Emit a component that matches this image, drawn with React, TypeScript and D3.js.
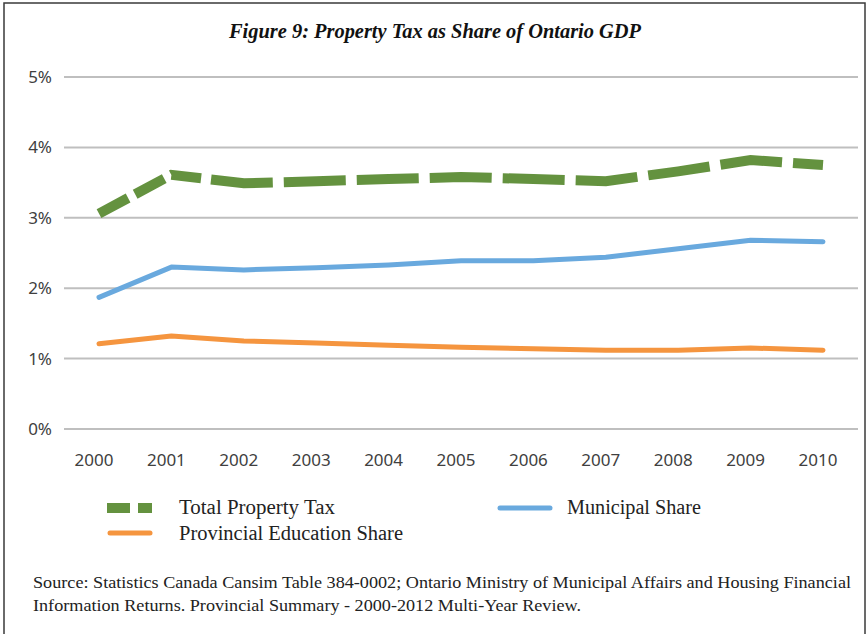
import React from 'react';
import * as d3 from 'd3';

const years = ['2000', '2001', '2002', '2003', '2004', '2005', '2006', '2007', '2008', '2009', '2010'];
const totalTax = [3.06, 3.61, 3.49, 3.52, 3.55, 3.58, 3.55, 3.52, 3.66, 3.82, 3.75];
const municipal = [1.87, 2.30, 2.26, 2.29, 2.33, 2.39, 2.39, 2.44, 2.56, 2.68, 2.66];
const provincial = [1.21, 1.32, 1.25, 1.22, 1.19, 1.16, 1.14, 1.12, 1.12, 1.15, 1.12];
const yTicks = [0, 1, 2, 3, 4, 5];

const W = 867;
const H = 634;

const App: React.FC = () => {
  const x = d3.scalePoint<string>().domain(years).range([99, 823]);
  const y = d3.scaleLinear().domain([0, 5]).range([429, 77]);

  const line = d3.line<number>()
    .x((_, i) => x(years[i]) as number)
    .y(d => y(d));

  // long dash pattern, first part a bit shorter like the original
  const greenDash = '33 8 33 8 30 10 ' + Array(14).fill('62 11').join(' ');

  const tickFont = "'Noto Sans', 'DejaVu Sans', sans-serif";
  const serif = "'Liberation Serif', 'DejaVu Serif', serif";

  return (
    <svg width={W} height={H} style={{ position: 'absolute', left: 0, top: 0, background: '#fff' }}>
      <rect x={4} y={3} width={861} height={H + 10} fill="#fff" stroke="#3a3a3a" strokeWidth={1.5} />

      <text x={229} y={38} fontFamily={serif} fontStyle="italic" fontWeight="bold"
        fontSize={20} fill="#111" textLength={412} lengthAdjust="spacingAndGlyphs">
        Figure 9: Property Tax as Share of Ontario GDP
      </text>

      {/* grid + y labels */}
      {yTicks.map(t => (
        <g key={t}>
          <line x1={64} x2={858} y1={y(t)} y2={y(t)} stroke="#bfbfbf" strokeWidth={2} />
          <text x={52} y={y(t) + 6} textAnchor="end" fontFamily={tickFont} fontSize={17} fill="#404040">
            {t}%
          </text>
        </g>
      ))}

      {/* x labels */}
      {years.map(yr => (
        <text key={yr} x={(x(yr) as number) - 5} y={466} textAnchor="middle" fontFamily={tickFont}
          fontSize={17} fill="#404040">
          {yr}
        </text>
      ))}

      {/* series */}
      <path d={line(provincial) || ''} fill="none" stroke="#f5953f" strokeWidth={5}
        strokeLinecap="round" strokeLinejoin="round" />
      <path d={line(municipal) || ''} fill="none" stroke="#69a9de" strokeWidth={5}
        strokeLinecap="round" strokeLinejoin="round" />
      <path d={line(totalTax) || ''} fill="none" stroke="#64923f" strokeWidth={10}
        strokeDasharray={greenDash} strokeLinejoin="miter" />

      {/* legend */}
      <line x1={107} x2={152} y1={508} y2={508} stroke="#64923f" strokeWidth={10} strokeDasharray="23 8" />
      <text x={179} y={514} fontFamily={serif} fontSize={20} fill="#222"
        textLength={156} lengthAdjust="spacingAndGlyphs">Total Property Tax</text>
      <line x1={500} x2={550} y1={508} y2={508} stroke="#69a9de" strokeWidth={5} strokeLinecap="round" />
      <text x={567} y={514} fontFamily={serif} fontSize={20} fill="#222"
        textLength={134} lengthAdjust="spacingAndGlyphs">Municipal Share</text>
      <line x1={110} x2={150} y1={533} y2={533} stroke="#f5953f" strokeWidth={5} strokeLinecap="round" />
      <text x={179} y={540} fontFamily={serif} fontSize={20} fill="#222"
        textLength={224} lengthAdjust="spacingAndGlyphs">Provincial Education Share</text>

      {/* source */}
      <text x={33} y={588} fontFamily={serif} fontSize={17} fill="#222"
        textLength={818} lengthAdjust="spacingAndGlyphs">
        Source: Statistics Canada Cansim Table 384-0002; Ontario Ministry of Municipal Affairs and Housing Financial
      </text>
      <text x={33} y={611} fontFamily={serif} fontSize={17} fill="#222"
        textLength={548} lengthAdjust="spacingAndGlyphs">
        Information Returns. Provincial Summary - 2000-2012 Multi-Year Review.
      </text>
    </svg>
  );
};

export default App;
